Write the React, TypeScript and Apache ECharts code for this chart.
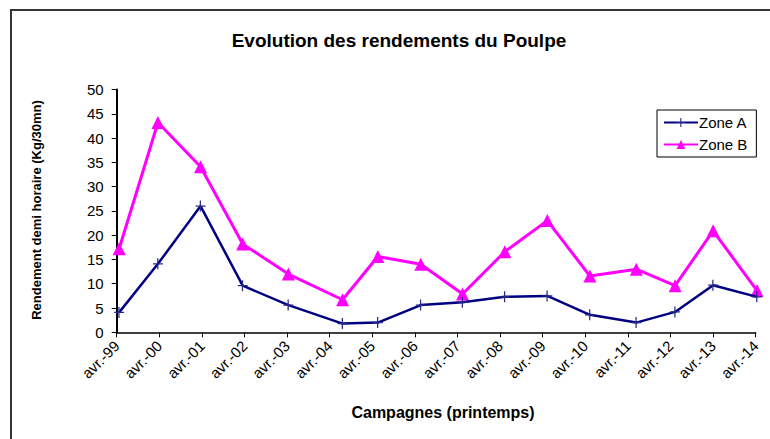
import React, { useEffect, useRef } from "react";
import * as echarts from "echarts";

// Campaign dates (each spring survey), values in Kg/30mn
const campaignDates = [
  "1999-04-22", "2000-03-20", "2001-03-20", "2002-03-16", "2003-04-12",
  "2004-07-20", "2005-05-18", "2006-05-21", "2007-05-14", "2008-05-11",
  "2009-05-10", "2010-05-10", "2011-06-12", "2012-05-10", "2013-04-01",
  "2014-04-12",
];
const zoneA = [4.1, 14.1, 26.0, 9.6, 5.6, 1.8, 2.0, 5.6, 6.2, 7.3, 7.5, 3.6, 2.0, 4.2, 9.7, 7.3];
const zoneB = [17.2, 43.2, 34.1, 18.2, 12.0, 6.7, 15.6, 14.0, 7.9, 16.6, 23.0, 11.6, 13.0, 9.6, 20.9, 8.6];
const seriesNames = ["Zone A", "Zone B"];
const tickPrefix = "avr.-";
const startYear = 1999;

const title = "Evolution des rendements du Poulpe";
const yName = "Rendement demi horaire (Kg/30mn)";
const xName = "Campagnes (printemps)";

// years elapsed since the first April tick
function toOffset(d: string): number {
  const [y, m, day] = d.split("-").map(Number);
  return y - startYear + (m - 4) / 12 + (day - 1) / 365;
}

const FONT = "Liberation Sans, Arial, sans-serif";
const PLUS = "path://M4,0H5.2V4.4H9.6V5.6H5.2V10H4V5.6H0V4.4H4Z";

export default function App() {
  const ref = useRef<HTMLDivElement>(null);
  useEffect(() => {
    if (!ref.current) return;
    const chart = echarts.init(ref.current, null, { renderer: "svg" });
    const xs = campaignDates.map(toOffset);
    chart.setOption({
      animation: false,
      backgroundColor: "#fff",
      textStyle: { fontFamily: FONT },
      title: {
        text: title,
        left: 394,
        top: 26,
        textAlign: "center",
        textStyle: { fontFamily: FONT, fontSize: 19, fontWeight: "bold", color: "#000" },
      },
      graphic: [
        {
          type: "rect",
          shape: { x: 11, y: 10, width: 900, height: 600 },
          style: { fill: "none", stroke: "#333", lineWidth: 2 },
          silent: true,
        },
        {
          type: "text",
          x: 36,
          y: 210,
          rotation: Math.PI / 2,
          style: {
            text: yName,
            fontFamily: FONT,
            fontSize: 13,
            fontWeight: "bold",
            fill: "#000",
            align: "center",
            verticalAlign: "middle",
          },
        },
        {
          type: "text",
          x: 443,
          y: 412,
          style: {
            text: xName,
            fontFamily: FONT,
            fontSize: 16,
            fontWeight: "bold",
            fill: "#000",
            align: "center",
            verticalAlign: "middle",
          },
        },
      ],
      legend: {
        orient: "vertical",
        left: 657,
        top: 110,
        borderColor: "#000",
        borderWidth: 1,
        borderRadius: 0,
        padding: [5, 9, 5, 6],
        itemGap: 7,
        itemWidth: 34,
        itemHeight: 11,
        textStyle: { fontFamily: FONT, fontSize: 15, color: "#000", padding: [0, 0, 0, -4] },
        data: seriesNames,
      },
      grid: {
        left: 116.7,
        top: 89.5,
        width: 639,
        height: 242.8,
        containLabel: false,
        outerBoundsMode: "none",
      },
      xAxis: {
        type: "value",
        min: 0,
        max: 15,
        interval: 1,
        axisLine: { lineStyle: { color: "#000", width: 1.5 } },
        axisTick: { show: true, length: 5, lineStyle: { color: "#000" } },
        splitLine: { show: false },
        axisLabel: {
          rotate: 45,
          margin: 11,
          fontFamily: FONT,
          fontSize: 15,
          color: "#000",
          formatter: (v: number) => {
            if (Math.abs(v - Math.round(v)) > 1e-6) return "";
            const yy = (startYear + Math.round(v)) % 100;
            return tickPrefix + (yy < 10 ? "0" + yy : String(yy));
          },
        },
      },
      yAxis: {
        type: "value",
        min: 0,
        max: 50,
        interval: 5,
        axisLine: { show: true, lineStyle: { color: "#000", width: 2 } },
        axisTick: { show: true, length: 5, lineStyle: { color: "#000" } },
        splitLine: { show: false },
        axisLabel: { fontFamily: FONT, fontSize: 15, color: "#000", margin: 13 },
      },
      series: [
        {
          name: seriesNames[0],
          type: "line",
          data: xs.map((x, i) => [x, zoneA[i]]),
          clip: false,
          symbol: PLUS,
          symbolSize: [10, 11],
          lineStyle: { color: "#000080", width: 2.5 },
          itemStyle: { color: "#2a2a8c" },
          z: 3,
        },
        {
          name: seriesNames[1],
          type: "line",
          data: xs.map((x, i) => [x, zoneB[i]]),
          clip: false,
          symbol: "triangle",
          symbolSize: 13,
          lineStyle: { color: "#ff00ff", width: 3 },
          itemStyle: { color: "#ff00ff" },
          z: 2,
        },
      ],
    });
    return () => chart.dispose();
  }, []);
  return (
    <div
      ref={ref}
      style={{ position: "fixed", left: 0, top: 0, width: 770, height: 439 }}
    />
  );
}
